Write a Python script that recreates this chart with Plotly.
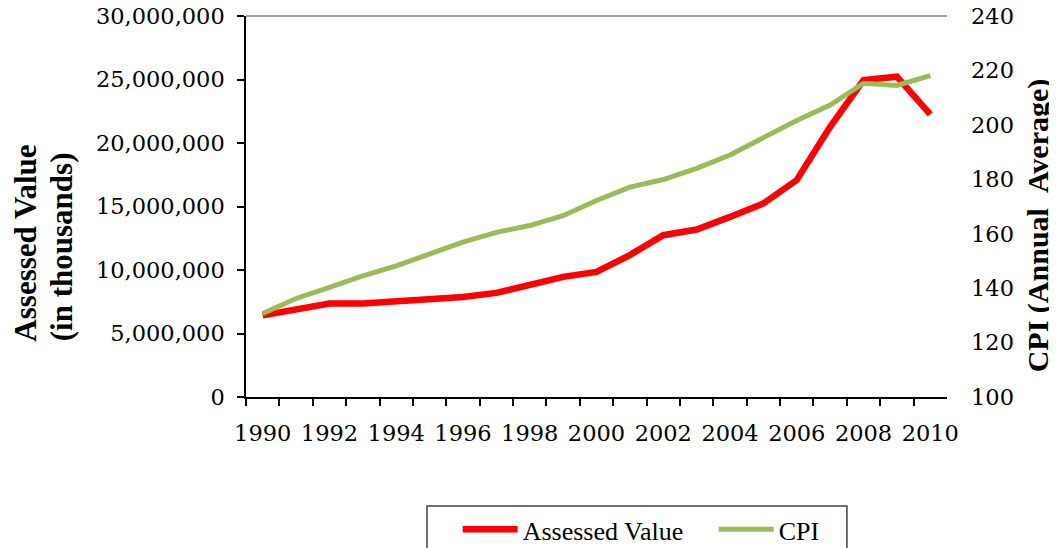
import plotly.graph_objects as go

# data
years = [str(y) for y in range(1990, 2011)]
year_labels = [y if int(y) % 2 == 0 else "" for y in years]

assessed_value = [
    6430000, 6890000, 7360000, 7360000, 7540000, 7700000, 7880000,
    8200000, 8860000, 9460000, 9850000, 11170000, 12740000, 13190000,
    14180000, 15240000, 17080000, 21280000, 24960000, 25220000, 22250000,
]
cpi = [
    130.7, 136.2, 140.3, 144.5, 148.2, 152.4, 156.9, 160.5, 163.0, 166.6,
    172.2, 177.1, 179.9, 184.0, 188.9, 195.3, 201.6, 207.3, 215.3, 214.5, 218.1,
]

left_ticks = [0, 5000000, 10000000, 15000000, 20000000, 25000000, 30000000]
left_labels = ["0", "5,000,000", "10,000,000", "15,000,000", "20,000,000", "25,000,000", "30,000,000"]
right_ticks = [100, 120, 140, 160, 180, 200, 220, 240]

TICK_FONT = dict(family="DejaVu Serif", size=22.5, color="black")
TITLE_FONT = dict(family="Liberation Serif", size=31, color="black")

X_END = 0.9682  # right edge of the plot inside the paper area


def inner_ticks(**kw):
    # tick marks drawn on the inside of an axis, so they cross the axis line
    d = dict(
        tickmode="array",
        ticks="inside",
        ticklen=7,
        tickwidth=1.5,
        tickcolor="black",
        showticklabels=False,
        showgrid=False,
        zeroline=False,
        showline=False,
        automargin=False,
    )
    d.update(kw)
    return d


fig = go.Figure()

fig.add_trace(
    go.Scatter(
        x=years,
        y=assessed_value,
        mode="lines",
        line=dict(color="#FF0000", width=6.5),
        name="Assessed Value",
        yaxis="y",
    )
)

# CPI sits on the free axis that carries the right-hand labels
fig.add_trace(
    go.Scatter(
        x=years,
        y=cpi,
        mode="lines",
        line=dict(color="#9BBB59", width=5),
        name="CPI",
        yaxis="y5",
    )
)

boundaries = [i - 0.5 for i in range(len(years) + 1)]

# the page body adds an 8px margin, so the figure is 8px smaller than the window
fig.update_layout(
    width=1049,
    height=540,
    margin=dict(l=238, r=87, t=8, b=151, autoexpand=False),
    plot_bgcolor="white",
    paper_bgcolor="white",
    showlegend=True,
    legend=dict(
        orientation="h",
        x=0.2924,
        xanchor="left",
        y=-0.286,
        yanchor="top",
        borderwidth=0,
        bgcolor="rgba(0,0,0,0)",
        font=dict(family="Liberation Serif", size=26, color="black"),
        itemwidth=55,
        entrywidth=186,
    ),
    xaxis=dict(
        type="category",
        domain=[0, X_END],
        tickmode="array",
        tickvals=years,
        ticktext=year_labels,
        tickson="boundaries",
        ticks="outside",
        ticklen=7,
        tickwidth=1.5,
        tickcolor="black",
        showline=True,
        linecolor="black",
        linewidth=1.5,
        showgrid=False,
        tickfont=TICK_FONT,
        tickangle=0,
        ticklabelstandoff=15,
        automargin=False,
        range=[-0.5, len(years) - 0.5],
    ),
    xaxis2=inner_ticks(
        overlaying="x",
        anchor="y",
        domain=[0, X_END],
        range=[-0.5, len(years) - 0.5],
        tickvals=boundaries,
    ),
    yaxis=dict(
        range=[0, 30000000],
        tickmode="array",
        tickvals=left_ticks,
        ticktext=left_labels,
        ticks="outside",
        ticklen=7,
        tickwidth=1.5,
        tickcolor="black",
        showline=True,
        linecolor="black",
        linewidth=1.5,
        showgrid=False,
        zeroline=False,
        tickfont=TICK_FONT,
        ticklabelstandoff=8,
        ticklabeloverflow="allow",
        automargin=False,
    ),
    # right axis line and its outer ticks
    yaxis2=dict(
        overlaying="y",
        side="right",
        anchor="x",
        range=[100, 240],
        tickmode="array",
        tickvals=right_ticks,
        ticks="outside",
        ticklen=7,
        tickwidth=1.5,
        tickcolor="black",
        showline=True,
        linecolor="black",
        linewidth=1.5,
        showgrid=False,
        zeroline=False,
        showticklabels=False,
        automargin=False,
    ),
    yaxis3=inner_ticks(overlaying="y", side="left", anchor="x",
                       range=[0, 30000000], tickvals=left_ticks),
    yaxis4=inner_ticks(overlaying="y", side="right", anchor="x",
                       range=[100, 240], tickvals=right_ticks),
    # CPI scale with its labels, set a bit away from the axis line
    yaxis5=dict(
        overlaying="y",
        side="right",
        anchor="free",
        position=1.0,
        range=[100, 240],
        tickmode="array",
        tickvals=right_ticks,
        ticks="",
        showline=False,
        showgrid=False,
        zeroline=False,
        tickfont=TICK_FONT,
        ticklabeloverflow="allow",
        automargin=False,
    ),
)

# gray top border of the plot area
fig.add_shape(
    type="line", xref="paper", yref="paper",
    x0=0, x1=X_END, y0=1, y1=1,
    line=dict(color="#808080", width=1.5),
)

# legend frame (runs off the bottom edge like the original)
fig.add_shape(
    type="rect", xref="paper", yref="paper",
    x0=0.250, x1=0.830, y0=-0.286, y1=-0.45,
    line=dict(color="#404040", width=1.5),
    fillcolor="rgba(0,0,0,0)",
)

# axis titles
fig.add_annotation(
    text="<b>Assessed Value</b>",
    xref="paper", yref="paper",
    x=-0.305, y=0.403,
    xanchor="center", yanchor="middle",
    textangle=-90,
    showarrow=False,
    font=TITLE_FONT,
)
fig.add_annotation(
    text="<b>(in thousands)</b>",
    xref="paper", yref="paper",
    x=-0.2537, y=0.394,
    xanchor="center", yanchor="middle",
    textangle=-90,
    showarrow=False,
    font=TITLE_FONT,
)
fig.add_annotation(
    text="<b>CPI (Annual\u00a0\u00a0Average)</b>",
    xref="paper", yref="paper",
    x=1.0941, y=0.451,
    xanchor="center", yanchor="middle",
    textangle=-90,
    showarrow=False,
    font=dict(family="Liberation Serif", size=30, color="black"),
)

fig.write_html("out.html")
